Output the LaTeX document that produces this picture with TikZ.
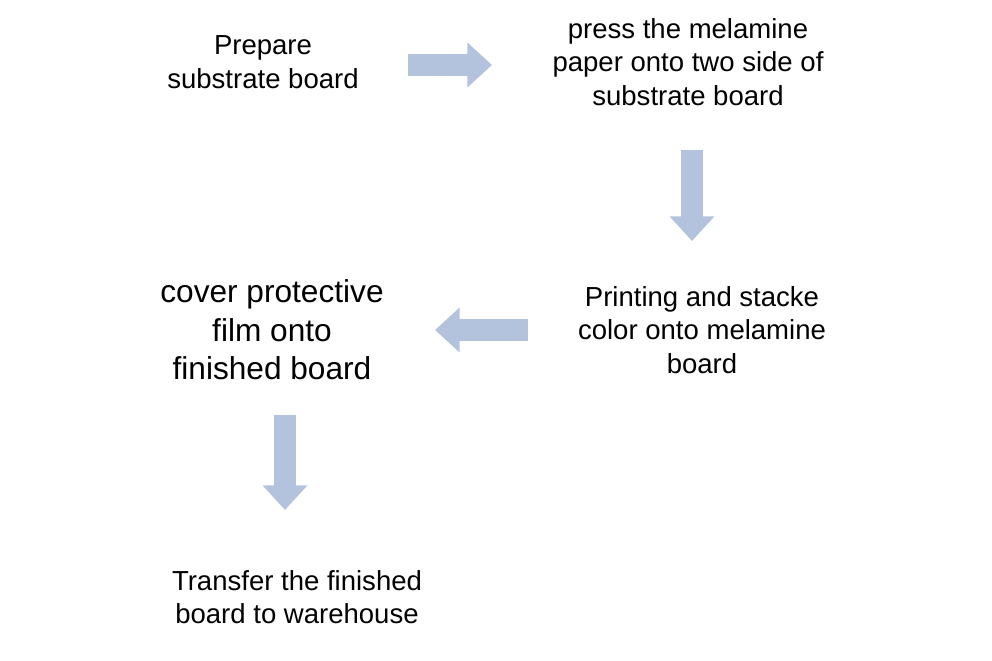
\documentclass[tikz,border=0pt]{standalone}
\usepackage{fontspec}
\setmainfont{Liberation Sans}
\usetikzlibrary{positioning,arrows.meta}
\definecolor{arrowblue}{HTML}{B4C3DD}
\tikzset{
  stage/.style={align=center,font=\fontsize{23.5}{28.5}\selectfont},
  bigstage/.style={align=center,font=\fontsize{27}{33}\selectfont},
  fat/.style={draw=arrowblue,line width=18.7pt,
    -{Triangle[length=21pt,width=37pt,fill=arrowblue]}}
}
\begin{document}
\begin{tikzpicture}[x=0.03cm,y=-0.03cm]
        \useasboundingbox (0,0) rectangle (992,660);

        \draw (263,62) node[stage] (prep) {Prepare\\substrate board};

        \draw (688,62) node[stage] (press) {press the melamine\\paper onto two side of\\substrate board};

        \draw (702,330) node[stage] (print) {Printing and stacke\\color onto melamine\\board};

        \draw (272,330) node[bigstage] (cover) {cover protective\\film onto\\finished board};

        \draw (297,597) node[stage] (transfer) {Transfer the finished\\board to warehouse};

        \coordinate (r1) at (408,65);
        \coordinate (r2) at (492,65);
        \coordinate (d1) at (692,150);
        \coordinate (d2) at (692,241);
        \coordinate (l1) at (528,330);
        \coordinate (l2) at (435,330);
        \coordinate (e1) at (285,415);
        \coordinate (e2) at (285,510);

        \draw[fat] (r1) -- (r2);

        \draw[fat] (d1) -- (d2);

        \draw[fat] (l1) -- (l2);

        \draw[fat] (e1) -- (e2);
\end{tikzpicture}
\end{document}
